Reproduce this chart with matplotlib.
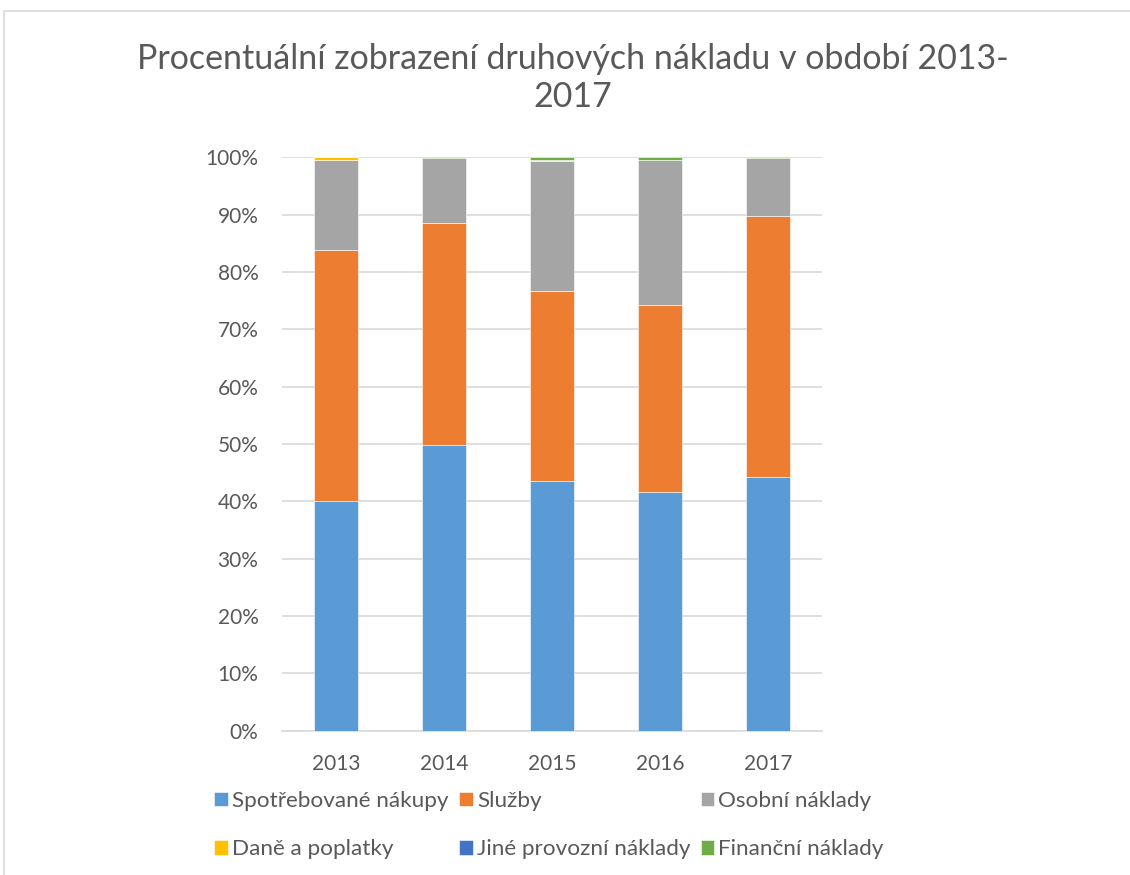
import matplotlib.pyplot as plt
import matplotlib.ticker as ticker
from matplotlib.patches import Rectangle

plt.rcParams['font.family'] = ['Lato', 'DejaVu Sans']

TEXT_COLOR = '#595959'
GRID_COLOR = '#D9D9D9'

years = ['2013', '2014', '2015', '2016', '2017']
series_names = ['Spotřebované nákupy', 'Služby', 'Osobní náklady',
                'Daně a poplatky', 'Jiné provozní náklady', 'Finanční náklady']
colors = ['#5B9BD5', '#ED7D31', '#A5A5A5', '#FFC000', '#4472C4', '#70AD47']

# shares in percent
spotrebovane = [40.0, 49.8, 43.6, 41.7, 44.3]
sluzby = [43.9, 38.8, 33.1, 32.5, 45.5]
osobni = [15.6, 11.2, 22.7, 25.3, 10.1]
dane = [0.5, 0.05, 0.05, 0.05, 0.0]
jine = [0.0, 0.0, 0.0, 0.0, 0.0]
financni = [0.0, 0.15, 0.55, 0.45, 0.1]

values = [spotrebovane, sluzby, osobni, dane, jine, financni]

fig = plt.figure(figsize=(11.3, 8.75), dpi=100)
ax = fig.add_axes([282 / 1130, 1 - 730.7 / 875, 540 / 1130, 573.4 / 875])

x = range(len(years))
bottom = [0.0] * len(years)
handles = []
for name, vals, col in zip(series_names, values, colors):
    totals = [sum(v[i] for v in values) for i in x]
    share = [vals[i] / totals[i] for i in x]
    h = ax.bar(x, share, 0.4, bottom=bottom, color=col, label=name,
               edgecolor='white', linewidth=0.4, zorder=3)
    handles.append(h)
    bottom = [b + s for b, s in zip(bottom, share)]

ax.set_xlim(-0.5, len(years) - 0.5)
ax.set_ylim(0, 1)
ax.yaxis.set_major_locator(ticker.MultipleLocator(0.1))
ax.yaxis.set_major_formatter(ticker.PercentFormatter(1.0, decimals=0))
ax.set_xticks(list(x))
ax.set_xticklabels(years)
ax.tick_params(axis='both', length=0, labelsize=15, labelcolor=TEXT_COLOR)
ax.tick_params(axis='y', pad=17)
ax.tick_params(axis='x', pad=16.5)
ax.grid(axis='y', color=GRID_COLOR, linewidth=1.2, zorder=0)
for side in ['top', 'right', 'left']:
    ax.spines[side].set_visible(False)
ax.spines['bottom'].set_color(GRID_COLOR)
ax.spines['bottom'].set_linewidth(1.2)

# legend: 3 columns, 2 rows, filled column-wise
order = [0, 3, 1, 4, 2, 5]
leg = fig.legend([handles[i] for i in order], [series_names[i] for i in order],
                 ncol=3, loc='center left', bbox_to_anchor=(203 / 1130, 1 - 825 / 875),
                 frameon=False, fontsize=16.2, handlelength=0.62, handleheight=0.62,
                 handletextpad=0.18, columnspacing=0.45, labelspacing=1.26,
                 borderpad=0)
for t in leg.get_texts():
    t.set_color(TEXT_COLOR)

fig.text(573 / 1130, 1 - 78 / 875,
         'Procentuální zobrazení druhových nákladu v období 2013-\n2017',
         ha='center', va='center', fontsize=24.5, color=TEXT_COLOR, linespacing=1.22)

fig.patches.append(Rectangle((3.5 / 1130, -0.1), 1.2, 1.1 - 11.5 / 875,
                             transform=fig.transFigure, fill=False,
                             edgecolor=GRID_COLOR, linewidth=1.2))

fig.savefig('out.png', dpi=100)
